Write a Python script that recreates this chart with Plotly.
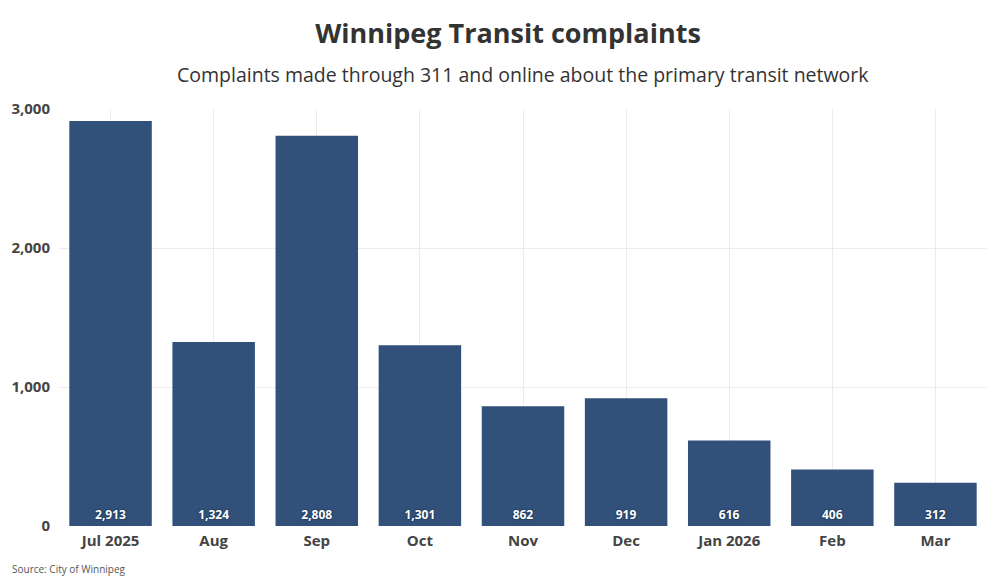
import plotly.graph_objects as go

# Winnipeg Transit complaints by month
months = ["Jul 2025", "Aug", "Sep", "Oct", "Nov", "Dec", "Jan 2026", "Feb", "Mar"]
complaints = [2913, 1324, 2808, 1301, 862, 919, 616, 406, 312]
y_ticks = [0, 1000, 2000, 3000]
y_tick_labels = ["0", "1,000", "2,000", "3,000"]

bar_color = "#2a4b76"
font_family = "Open Sans, Roboto, sans-serif"

fig = go.Figure(
    go.Bar(
        x=months,
        y=complaints,
        marker=dict(color=bar_color, opacity=0.97, line=dict(width=0)),
        text=[f"{v:,}" for v in complaints],
        textposition="inside",
        insidetextanchor="start",
        textangle=0,
        textfont=dict(family=font_family, size=12, color="white", weight="bold",
                      shadow="0px 0px 2px #0d1f3a"),
        hoverinfo="x+y",
    )
)

fig.update_layout(
    width=1000,
    height=585,
    paper_bgcolor="white",
    plot_bgcolor="white",
    bargap=0.2,
    showlegend=False,
    margin=dict(l=51, r=21, t=101, b=67),
    font=dict(family=font_family, color="#444"),
    title=dict(
        text="<b>Winnipeg Transit complaints</b>",
        x=0.5, xanchor="center", y=0.957, yanchor="middle",
        font=dict(size=27, color="#333"),
    ),
    annotations=[
        dict(
            text="Complaints made through 311 and online about the primary transit network",
            xref="paper", yref="paper", x=0.5, y=1.0, yshift=35,
            xanchor="center", yanchor="middle", showarrow=False,
            font=dict(size=19.5, color="#333"),
        ),
        dict(
            text="Source: City of Winnipeg",
            xref="paper", yref="paper", x=-0.0528, y=0, yshift=-43,
            xanchor="left", yanchor="middle", showarrow=False,
            font=dict(size=10, color="#555"),
        ),
    ],
    xaxis=dict(
        showgrid=True, gridcolor="#ececec", gridwidth=1,
        showline=False, ticks="", ticklabelstandoff=4, automargin=False,
        tickfont=dict(size=15, color="#444", weight="bold"),
    ),
    yaxis=dict(
        range=[0, 3000],
        tickvals=y_ticks, ticktext=y_tick_labels,
        showgrid=True, gridcolor="#ececec", gridwidth=1,
        zeroline=False, showline=False, ticks="", ticklabelstandoff=8,
        automargin=False,
        tickfont=dict(size=15, color="#444", weight="bold"),
    ),
)

fig.write_html("out.html")
